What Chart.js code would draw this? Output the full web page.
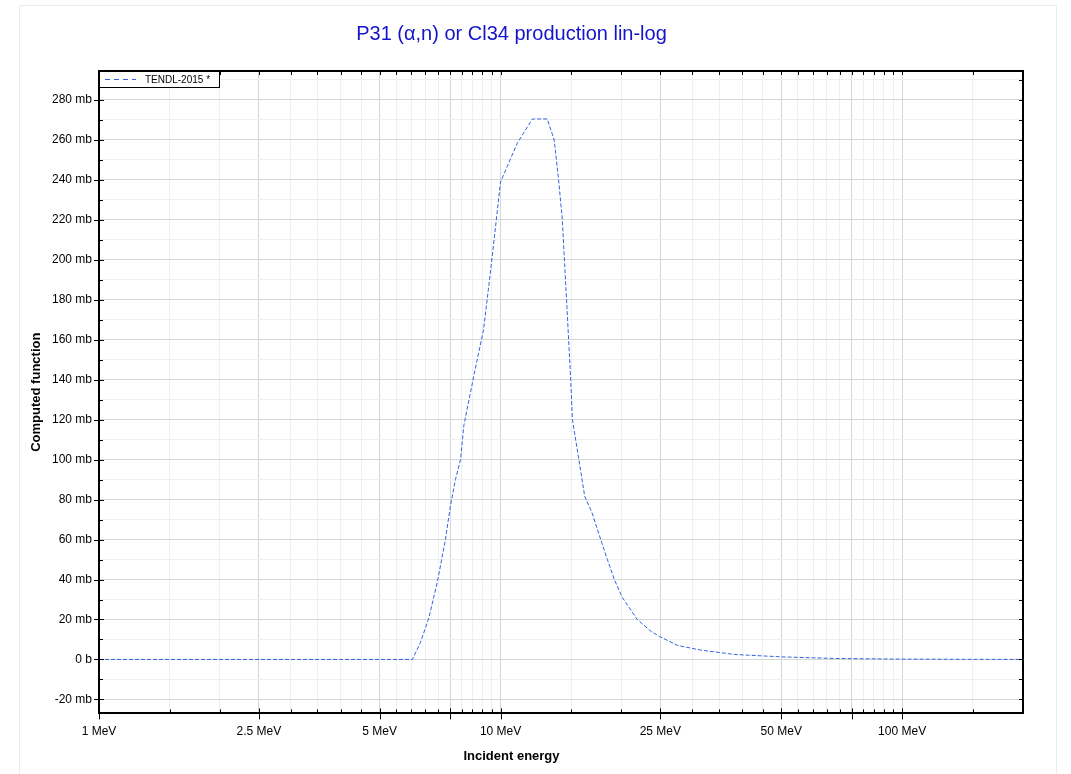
<!DOCTYPE html>
<html><head><meta charset="utf-8">
<script src="https://cdn.jsdelivr.net/npm/chart.js@4/dist/chart.umd.min.js"></script>
<style>
html,body{margin:0;padding:0;background:#fff;}
#wrap{position:relative;width:1071px;height:774px;overflow:hidden;}
#frame{position:absolute;left:19px;top:5px;width:1038px;height:800px;border:1px solid #ececec;box-sizing:border-box;}
canvas{position:absolute;left:0;top:0;}
</style></head><body>
<div id="wrap"><div id="frame"></div><canvas id="c" width="1071" height="774"></canvas></div>
<script>
// Data
const energies = [1, 2, 3, 4, 5, 6.03, 6.31, 6.63, 6.98, 7.29, 7.5, 7.72, 7.95, 8.1, 8.6, 9.07, 9.45, 10.0, 10.39, 11.0, 12.0, 13.07, 13.6, 13.95, 14.25, 14.6, 14.95, 15.1, 15.67, 16.2, 16.9, 17.76, 18.45, 19.2, 20.1, 21.9, 23.7, 25, 27.6, 31.5, 38.2, 50, 67.7, 100, 150, 200];
const tendl2015 = [0, 0, 0, 0, 0, 0, 8.3, 20.8, 40, 60, 76.7, 90, 100, 117, 143, 165, 195, 239, 246.7, 258.3, 270.5, 270.5, 260, 240, 220, 180, 140, 120, 100, 81.7, 73.3, 60, 50, 40, 31, 20, 14, 11.3, 7, 4.7, 2.5, 1.3, 0.5, 0.15, 0.05, 0.02];
const seriesLabel = 'TENDL-2015 *';
const xMajorTicks = [1, 2.5, 5, 7.5, 10, 25, 50, 75, 100];
const xMinorTicks = [1.5, 2, 3, 3.5, 4, 4.5, 5.5, 6, 6.5, 7, 8, 8.5, 9, 9.5, 15, 20, 30, 35, 40, 45, 55, 60, 65, 70, 80, 85, 90, 95, 150];
const xLabelTicks = [1, 2.5, 5, 10, 25, 50, 100];
const yMajorTicks = [-20, 0, 20, 40, 60, 80, 100, 120, 140, 160, 180, 200, 220, 240, 260, 280];
const yMinorTicks = [-10, 10, 30, 50, 70, 90, 110, 130, 150, 170, 190, 210, 230, 250, 270, 290];

const FONT = "'Liberation Sans', Arial, sans-serif";
const xAll = xMajorTicks.concat(xMinorTicks).sort((a,b)=>a-b);
const yAll = yMajorTicks.concat(yMinorTicks).sort((a,b)=>a-b);

const framePlugin = {
  id: 'frame',
  afterDraw(chart) {
    const {ctx, chartArea: a, scales} = chart;
    ctx.save();
    ctx.strokeStyle = '#000';
    // top and right frame
    ctx.lineWidth = 2;
    ctx.beginPath();
    ctx.moveTo(a.left, a.top); ctx.lineTo(a.right, a.top); ctx.lineTo(a.right, a.bottom);
    ctx.stroke();
    ctx.lineWidth = 1;
    // x ticks
    ctx.beginPath();
    xAll.forEach(v => {
      const px = Math.round(scales.x.getPixelForValue(v)) + 0.5;
      const major = xMajorTicks.includes(v);
      if (major) { ctx.moveTo(px, a.bottom - 5); ctx.lineTo(px, a.bottom + 6); }
      else { ctx.moveTo(px, a.bottom - 4); ctx.lineTo(px, a.bottom); }
      ctx.moveTo(px, a.top); ctx.lineTo(px, a.top + 4);
    });
    // y ticks
    yAll.forEach(v => {
      const py = scales.y.getPixelForValue(v);
      if (py < a.top + 1 || py > a.bottom - 1) return;
      const p = Math.round(py) + 0.5;
      const major = yMajorTicks.includes(v);
      if (major) { ctx.moveTo(a.left - 5, p); ctx.lineTo(a.left + 5, p); }
      else { ctx.moveTo(a.left, p); ctx.lineTo(a.left + 4, p); }
      ctx.moveTo(a.right - 4, p); ctx.lineTo(a.right, p);
    });
    ctx.stroke();
    // legend box
    const ds = chart.data.datasets[0];
    const lx = a.left, ly = a.top, lw = 120, lh = 16;
    ctx.fillStyle = '#fff';
    ctx.fillRect(lx, ly, lw, lh);
    ctx.strokeStyle = '#000';
    ctx.lineWidth = 1;
    ctx.strokeRect(lx + 0.5, ly + 0.5, lw, lh);
    ctx.strokeStyle = ds.borderColor;
    ctx.lineWidth = 1.2;
    ctx.setLineDash([5, 4]);
    ctx.beginPath();
    ctx.moveTo(lx + 6, ly + 8.5); ctx.lineTo(lx + 37, ly + 8.5);
    ctx.stroke();
    ctx.setLineDash([]);
    ctx.fillStyle = '#000';
    ctx.font = '10px ' + FONT;
    ctx.textBaseline = 'middle';
    ctx.textAlign = 'left';
    ctx.fillText(ds.label, lx + 46, ly + 9);
    ctx.restore();
  }
};

new Chart(document.getElementById('c'), {
  type: 'scatter',
  data: {
    datasets: [{
      label: seriesLabel,
      data: energies.map((e, i) => ({x: e, y: tendl2015[i]})),
      showLine: true,
      borderColor: '#3562e0',
      borderWidth: 1,
      borderDash: [4, 2],
      pointRadius: 0,
      fill: false,
      tension: 0
    }]
  },
  options: {
    responsive: false,
    animation: false,
    devicePixelRatio: 1,
    layout: {padding: {left: 0, right: 48, top: 0, bottom: 0}},
    plugins: {
      legend: {display: false},
      tooltip: {enabled: false},
      title: {display: true, text: 'P31 (α,n) or Cl34 production lin-log', color: '#1414cc',
        font: {family: FONT, size: 20, weight: 'normal'}, padding: {top: 22, bottom: 25}},
      subtitle: {display: true, position: 'bottom', text: 'Incident energy', color: '#000',
        font: {family: FONT, size: 13, weight: 'bold'}, padding: {top: 4, bottom: 10}}
    },
    scales: {
      x: {
        type: 'logarithmic', min: 1, max: 200,
        afterBuildTicks: s => { s.ticks = xAll.map(v => ({value: v, major: xMajorTicks.includes(v)})); },
        afterFit: s => { s.height = 31; },
        ticks: {autoSkip: false, maxRotation: 0, padding: 11, color: '#000', font: {family: FONT, size: 12},
          callback: v => xLabelTicks.includes(v) ? v + ' MeV' : ''},
        grid: {drawTicks: false, color: c => (c.tick && xMajorTicks.includes(c.tick.value)) ? '#d6d6d6' : '#efefef'},
        border: {color: '#000', width: 2}
      },
      y: {
        type: 'linear', min: -27, max: 294.5,
        afterBuildTicks: s => { s.ticks = yAll.filter(v => v >= -27 && v <= 294.5).map(v => ({value: v, major: yMajorTicks.includes(v)})); },
        afterFit: s => { s.width = 99; },
        ticks: {autoSkip: false, padding: 7, color: '#000', font: {family: FONT, size: 12},
          callback: v => yMajorTicks.includes(v) ? (v === 0 ? '0 b' : v + ' mb') : ''},
        grid: {drawTicks: false, color: c => (c.tick && yMajorTicks.includes(c.tick.value)) ? '#d6d6d6' : '#f0f0f0'},
        border: {color: '#000', width: 2},
        title: {display: true, text: 'Computed function', color: '#000', font: {family: FONT, size: 13, weight: 'bold'}, padding: {top: 29, bottom: 0}}
      }
    }
  },
  plugins: [framePlugin]
});
</script>
</body></html>
